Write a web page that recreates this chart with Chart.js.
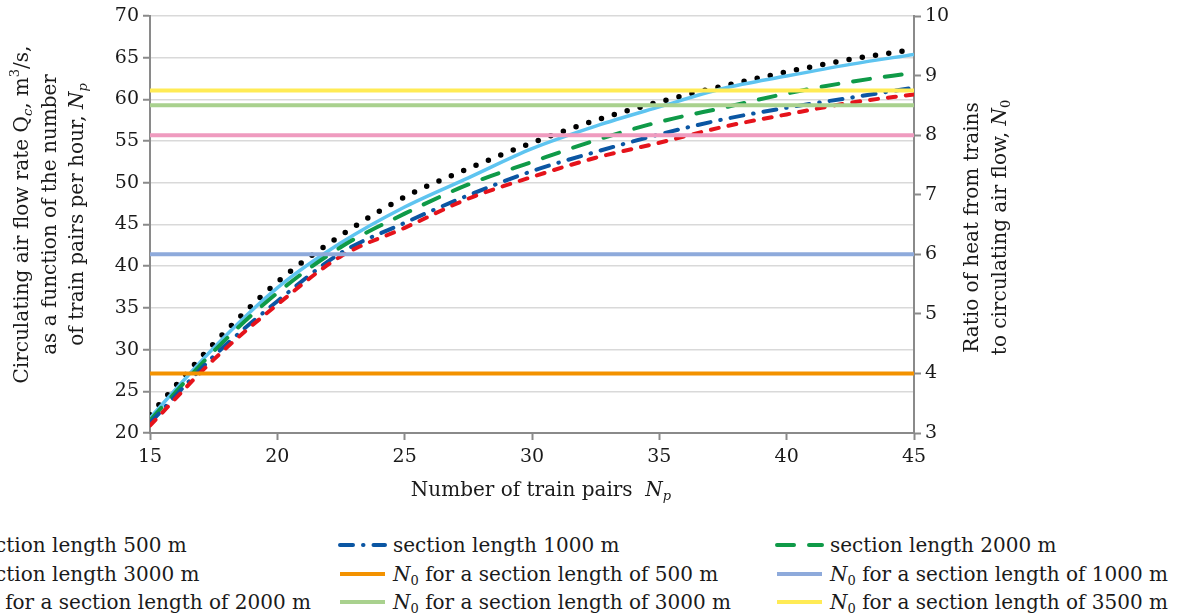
<!DOCTYPE html>
<html>
<head>
<meta charset="utf-8">
<script src="https://cdn.jsdelivr.net/npm/chart.js@4/dist/chart.umd.min.js"></script>
<style>
    body { margin: 0; width: 1186px; height: 616px; overflow: hidden; background: #fff; position: relative; }
    #wrap { position: absolute; left: 0; top: 0; width: 1186px; height: 520px; }
    #legend { position: absolute; left: 0; top: 531px; width: 1186px; font: 20px "DejaVu Serif", serif; color: #1a1a1a; }
    .item { position: absolute; height: 28px; line-height: 28px; white-space: nowrap; display: flex; align-items: center; }
    .item svg { margin-right: 5px; flex: none; }
    .item sub { font-size: 13px; vertical-align: -4px; line-height: 0; }
</style>
</head>
<body>
<div id="wrap"><canvas id="myChart" width="1186" height="520"></canvas></div>
<div id="legend"></div>
<script>
// x values: number of train pairs
var trainPairs = [15, 17.5, 20, 22.5, 25, 27.5, 30, 32.5, 35, 37.5, 40, 42.5, 45];

// circulating air flow rate Qc, m3/s, per section length
var flow500  = [20.9, 28.8, 35.4, 41.2, 44.6, 48.1, 50.7, 53.0, 54.8, 56.7, 58.2, 59.6, 60.6];
var flow1000 = [21.2, 29.2, 35.8, 41.6, 45.2, 48.5, 51.4, 53.7, 55.8, 57.6, 59.0, 60.2, 61.4];
var flow2000 = [21.5, 29.8, 36.8, 42.3, 46.3, 49.8, 52.5, 55.1, 57.3, 59.0, 60.7, 62.1, 63.2];
var flow3000 = [21.8, 30.2, 37.4, 42.8, 47.1, 50.6, 54.1, 56.8, 59.1, 61.3, 62.8, 64.2, 65.4];
var flow3500 = [22.2, 30.7, 38.1, 43.7, 48.3, 51.7, 54.8, 57.5, 59.7, 61.6, 63.3, 64.8, 66.0];

// ratio of heat from trains to circulating air flow N0
var n0Lengths = [500, 1000, 2000, 3000, 3500];
var n0Values = [4, 6, 8, 8.5, 8.75];

var seriesNames = ['section length 500 m', 'section length 1000 m', 'section length 2000 m',
    'section length 3000 m', 'section length 3500 m'];

var FONT = '"DejaVu Serif", serif';
var TEXT = '#1a1a1a';
var AXIS = '#8a8a8a';

var curveStyles = [
    { color: '#e5131b', width: 4, dash: [8, 10], cap: 'round' },
    { color: '#0b56a3', width: 4, dash: [13, 10, 0.5, 10], cap: 'round' },
    { color: '#0f9a48', width: 4, dash: [17, 15], cap: 'round' },
    { color: '#5ec4f0', width: 3.5, dash: [], cap: 'butt' },
    { color: '#000000', width: 5.5, dash: [0, 13.4], cap: 'round' }
];
var n0Colors = ['#f39200', '#8eaadb', '#ef9bbf', '#a9d18e', '#ffeb55'];

var flows = [flow500, flow1000, flow2000, flow3000, flow3500];
var datasets = [];

flows.forEach(function (vals, i) {
    var s = curveStyles[i];
    datasets.push({
        label: seriesNames[i],
        data: trainPairs.map(function (x, k) { return { x: x, y: vals[k] }; }),
        yAxisID: 'y',
        borderColor: s.color,
        borderWidth: s.width,
        borderDash: s.dash,
        borderCapStyle: s.cap,
        pointRadius: 0,
        fill: false,
        cubicInterpolationMode: 'monotone',
        order: 2
    });
});

n0Values.forEach(function (v, i) {
    datasets.push({
        label: 'N0 for a section length of ' + n0Lengths[i] + ' m',
        data: [{ x: trainPairs[0], y: v }, { x: trainPairs[trainPairs.length - 1], y: v }],
        yAxisID: 'y2',
        borderColor: n0Colors[i],
        borderWidth: 4,
        pointRadius: 0,
        fill: false,
        order: 1
    });
});

// titles with italics and sub/superscripts
var leftTitle = [
    [{ t: 'Circulating air flow rate Q' }, { t: 'c', it: true, sub: true }, { t: ', m' }, { t: '3', sup: true }, { t: '/s,' }],
    [{ t: 'as a function of the number' }],
    [{ t: 'of train pairs per hour, ' }, { t: 'N', it: true }, { t: 'p', it: true, sub: true }]
];
var rightTitle = [
    [{ t: 'Ratio of heat from trains' }],
    [{ t: 'to circulating air flow, ' }, { t: 'N', it: true }, { t: '0', sub: true }]
];
var bottomTitle = [{ t: 'Number of train pairs  ' }, { t: 'N', it: true }, { t: 'p', it: true, sub: true }];

function runFont(r) {
    var size = (r.sub || r.sup) ? 13 : 20;
    return (r.it ? 'italic ' : '') + size + 'px ' + FONT;
}

function drawRuns(ctx, runs, cx, cy, rot) {
    ctx.save();
    ctx.translate(cx, cy);
    ctx.rotate(rot);
    ctx.fillStyle = TEXT;
    ctx.textBaseline = 'middle';
    ctx.textAlign = 'left';
    var total = 0;
    runs.forEach(function (r) {
        ctx.font = runFont(r);
        r.w = ctx.measureText(r.t).width;
        total += r.w;
    });
    var x = -total / 2;
    runs.forEach(function (r) {
        ctx.font = runFont(r);
        ctx.fillText(r.t, x, r.sub ? 6 : (r.sup ? -7 : 0));
        x += r.w;
    });
    ctx.restore();
}

var richTitles = {
    id: 'richTitles',
    afterDraw: function (chart) {
        var ctx = chart.ctx;
        var midY = (chart.chartArea.top + chart.chartArea.bottom) / 2;
        var leftX = [23, 51, 78];
        leftTitle.forEach(function (line, i) { drawRuns(ctx, line, leftX[i], midY - 10, -Math.PI / 2); });
        var rightX = [973, 1001];
        rightTitle.forEach(function (line, i) { drawRuns(ctx, line, rightX[i], midY + 3, -Math.PI / 2); });
        drawRuns(ctx, bottomTitle, 541, 491, 0);
    }
};

var ctx = document.getElementById('myChart').getContext('2d');
new Chart(ctx, {
    type: 'line',
    data: { datasets: datasets },
    plugins: [richTitles],
    options: {
        responsive: false,
        devicePixelRatio: 1,
        animation: false,
        layout: { padding: { top: 16, bottom: 0, left: 0, right: 0 } },
        plugins: { legend: { display: false }, tooltip: { enabled: false } },
        scales: {
            x: {
                type: 'linear',
                min: 15, max: 45,
                ticks: { stepSize: 5, color: TEXT, font: { family: FONT, size: 19 }, padding: 6, maxRotation: 0 },
                grid: { drawOnChartArea: false, tickLength: 7, tickColor: AXIS, tickWidth: 2 },
                border: { color: AXIS, width: 2 },
                afterFit: function (s) { s.height = 87; }
            },
            y: {
                position: 'left',
                min: 20, max: 70,
                ticks: { stepSize: 5, color: TEXT, font: { family: FONT, size: 19 }, padding: 4 },
                grid: { color: '#d9d9d9', lineWidth: 1.5, tickLength: 7, tickColor: AXIS, tickWidth: 2 },
                border: { color: AXIS, width: 2 },
                afterFit: function (s) { s.width = 150; }
            },
            y2: {
                position: 'right',
                min: 3, max: 10,
                ticks: { stepSize: 1, color: TEXT, font: { family: FONT, size: 19 }, padding: 4 },
                grid: { drawOnChartArea: false, tickLength: 7, tickColor: AXIS, tickWidth: 2 },
                border: { color: AXIS, width: 2 },
                afterFit: function (s) { s.width = 272; }
            }
        }
    }
});

// legend, laid out in three columns like the original (first column runs off the page)
function swatch(color, width, dash, cap) {
    return '<svg width="51" height="10"><line x1="3" y1="5" x2="48" y2="5" stroke="' + color +
        '" stroke-width="' + width + '" stroke-linecap="' + (cap || 'butt') + '"' +
        (dash && dash.length ? ' stroke-dasharray="' + dash.join(' ') + '"' : '') + '/></svg>';
}

var legendItems = [];
[0, 1, 2, 3].forEach(function (i) {
    var s = curveStyles[i];
    legendItems.push(swatch(s.color, s.width, s.dash, s.cap) + '<span>' + seriesNames[i] + '</span>');
});
n0Lengths.forEach(function (len, i) {
    legendItems.push(swatch(n0Colors[i], 4) + '<span><i>N</i><sub>0</sub> for a section length of ' + len + ' m</span>');
});
legendItems.push(swatch(curveStyles[4].color, 5, curveStyles[4].dash.map(function (d) { return d || 0.1; }), 'round') +
    '<span>' + seriesNames[4] + '</span>');

var colLeft = [-83, 337, 774];
var legend = document.getElementById('legend');
legendItems.forEach(function (html, k) {
    var div = document.createElement('div');
    div.className = 'item';
    div.style.left = colLeft[k % 3] + 'px';
    div.style.top = (Math.floor(k / 3) * 28.5) + 'px';
    div.innerHTML = html;
    legend.appendChild(div);
});
</script>
</body>
</html>
